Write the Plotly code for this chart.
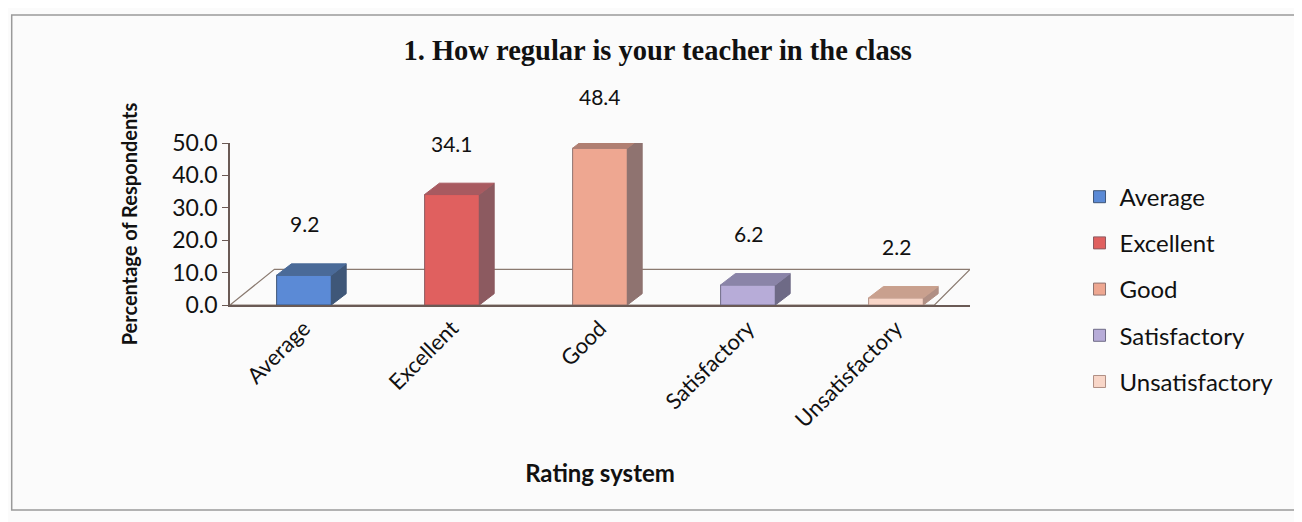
import plotly.graph_objects as go

categories = ["Average", "Excellent", "Good", "Satisfactory", "Unsatisfactory"]
values = [9.2, 34.1, 48.4, 6.2, 2.2]
front_colors = ["#5b8ad6", "#e0605f", "#eea791", "#b7acd8", "#f8d6c8"]
side_colors = ["#3f5778", "#8c5a60", "#8f7370", "#6e6a86", "#b08f84"]
top_colors = ["#4a6a98", "#a85a60", "#b07f72", "#8a84a8", "#c9a08e"]
y_ticks = [0, 10, 20, 30, 40, 50]

FONT = "Lato, 'Open Sans', sans-serif"
W = 0.37   # bar width (category units)
DX = 0.1   # bar depth offset x
DY = 3.5   # bar depth offset y (data units)

fig = go.Figure()
for i, (c, v) in enumerate(zip(categories, values)):
    fig.add_trace(go.Bar(
        x=[c], y=[v], name=c, width=W,
        marker=dict(color=front_colors[i], line=dict(color=side_colors[i], width=1)),
        legendgroup=c, showlegend=True, hoverinfo="x+y",
    ))

shapes = []
n = len(categories)
# floor
shapes.append(dict(type="path", xref="x", yref="y",
                   path=f"M -0.5,0 L {n-0.74},0 L {n-0.5},11 L -0.2,11 Z",
                   line=dict(color="#8a7a70", width=1.2), fillcolor="rgba(255,255,255,0)", layer="below"))
for i, v in enumerate(values):
    x0 = i - W / 2
    x1 = i + W / 2
    shapes.append(dict(type="path", xref="x", yref="y",
                       path=f"M {x1},0 L {x1+DX},{DY} L {x1+DX},{v+DY} L {x1},{v} Z",
                       fillcolor=side_colors[i], line=dict(color=side_colors[i], width=1), layer="above"))
    shapes.append(dict(type="path", xref="x", yref="y",
                       path=f"M {x0},{v} L {x0+DX},{v+DY} L {x1+DX},{v+DY} L {x1},{v} Z",
                       fillcolor=top_colors[i], line=dict(color=top_colors[i], width=1), layer="above"))

# chart frame
shapes.append(dict(type="rect", xref="paper", yref="paper",
                   x0=-0.295, x1=1.439, y0=-1.265, y1=1.79,
                   line=dict(color="#9a9a9a", width=1.5), fillcolor="rgba(0,0,0,0)", layer="below"))

annotations = []
for c, v in zip(categories, values):
    annotations.append(dict(x=c, y=v, xref="x", yref="y", text=f"{v:.1f}",
                            showarrow=False, yanchor="bottom", yshift=37,
                            font=dict(family=FONT, size=21, color="#111")))

fig.update_layout(
    width=1302, height=522,
    margin=dict(l=222, r=340, t=135, b=225),
    paper_bgcolor="#fbfbfb", plot_bgcolor="rgba(0,0,0,0)",
    barmode="overlay",
    title=dict(text="<b>1. How regular is your teacher in the class</b>",
               x=0.499, xref="container", xanchor="center",
               y=0.92, yref="container", yanchor="middle",
               font=dict(family="'Liberation Serif', 'Times New Roman', serif", size=28.5, color="#111")),
    showlegend=True,
    legend=dict(x=1.148, y=0.805, xanchor="left", yanchor="top",
                font=dict(family=FONT, size=24, color="#111"),
                tracegroupgap=12, itemwidth=30, bgcolor="rgba(0,0,0,0)",
                maxheight=420),
    shapes=shapes,
    annotations=annotations,
)

fig.update_xaxes(
    type="category", categoryorder="array", categoryarray=categories,
    range=[-0.5, n - 0.5],
    tickangle=-45, showline=True, linecolor="#6a5a55", linewidth=1.5,
    tickfont=dict(family=FONT, size=22, color="#111"), ticks="",
    title=dict(text="<b>Rating system</b>", font=dict(family=FONT, size=24, color="#111"), standoff=34),
    showgrid=False, zeroline=False, automargin=False,
)
fig.update_yaxes(
    range=[0, 50], tickvals=y_ticks, ticktext=[f"{t:.1f}" for t in y_ticks],
    showline=True, linecolor="#6a5a55", linewidth=1.5, ticks="outside", ticklen=6,
    tickcolor="#6a5a55",
    tickfont=dict(family=FONT, size=23, color="#111"),
    title=dict(text="<b>Percentage of Respondents</b>", font=dict(family=FONT, size=20, color="#111"), standoff=29),
    showgrid=False, zeroline=False, automargin=False,
)

fig.write_html("out.html")
